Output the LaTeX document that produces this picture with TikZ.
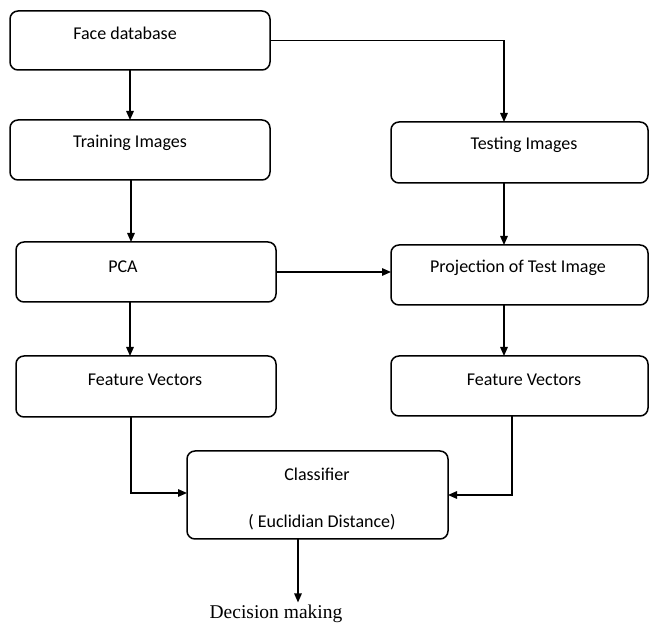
\documentclass[tikz,border=0pt]{standalone}
\usepackage{fontspec}
\setmainfont{Carlito}
\newfontfamily\timesfont{Liberation Serif}
\usetikzlibrary{positioning,arrows.meta}
\tikzset{
  flowarrow/.style={-{Triangle[length=9pt, width=7.5pt]}, line width=1.4pt},
  stepbox/.style={draw, rounded corners=8pt, line width=1.5pt, fill=white, inner sep=0pt, outer sep=0pt},
  boxlabel/.style={font=\fontsize{18}{21}\selectfont, inner sep=0pt},
  endlabel/.style={font=\timesfont\fontsize{19.5}{22}\selectfont, inner sep=2.5pt}
}
\begin{document}
\begin{tikzpicture}[x=1pt, y=-1pt]
  \useasboundingbox (0,0) rectangle (649,628);
  % boxes
  \node[stepbox, minimum width=260pt, minimum height=59pt] (facedb) at (140,40.5) {};
  \node[stepbox, minimum width=260pt, minimum height=60pt] (train) at (140,150) {};
  \node[stepbox, minimum width=257pt, minimum height=61pt] (test) at (519.5,152.5) {};
  \node[stepbox, minimum width=260pt, minimum height=60pt] (pca) at (146,272) {};
  \node[stepbox, minimum width=257pt, minimum height=60pt] (proj) at (519.5,275) {};
  \node[stepbox, minimum width=260pt, minimum height=61pt] (fvl) at (146,386.5) {};
  \node[stepbox, minimum width=257pt, minimum height=60pt] (fvr) at (519.5,386) {};
  \node[stepbox, minimum width=261pt, minimum height=88pt] (clf) at (317.5,495) {};
  % texts
  \node[boxlabel] (facedbtxt) at (125,33) {Face database};
  \node[boxlabel] (traintxt) at (130,143) {Training Images};
  \node[boxlabel] (testtxt) at (524,145) {Testing Images};
  \node[boxlabel] (pcatxt) at (123,267) {PCA};
  \node[boxlabel] (projtxt) at (518,268) {Projection of Test Image};
  \node[boxlabel] (fvltxt) at (145,380) {Feature Vectors};
  \node[boxlabel] (fvrtxt) at (524,380) {Feature Vectors};
  \node[boxlabel] (clftxt) at (317,474) {Classifier};
  \node[boxlabel] (disttxt) at (322,522) {( Euclidian Distance)};
  \node[endlabel] (decision) at (276,614) {Decision making};
  % connectors
  \draw[flowarrow] ([xshift=-10pt]facedb.south) -- ([xshift=-10pt]train.north);
  \draw[flowarrow] (facedb.east) -| ([xshift=-15.5pt]test.north);
  \draw[flowarrow] ([xshift=-9pt]train.south) -- ([xshift=-9pt]train.south |- pca.north);
  \draw[flowarrow] ([xshift=-15.5pt]test.south) -- ([xshift=-15.5pt]proj.north);
  \draw[flowarrow] (pca.east) -- (pca.east -| proj.west);
  \draw[flowarrow] ([xshift=-16pt]pca.south) -- ([xshift=-16pt]fvl.north);
  \draw[flowarrow] ([xshift=-15.5pt]proj.south) -- ([xshift=-15.5pt]fvr.north);
  \draw[flowarrow] ([xshift=-15pt]fvl.south) |- ([yshift=2pt]clf.west);
  \draw[flowarrow] ([xshift=-7.5pt]fvr.south) |- (clf.east);
  \draw[flowarrow] ([xshift=-19.5pt]clf.south) -- ([xshift=-19.5pt]clf.south |- decision.north);
\end{tikzpicture}
\end{document}
